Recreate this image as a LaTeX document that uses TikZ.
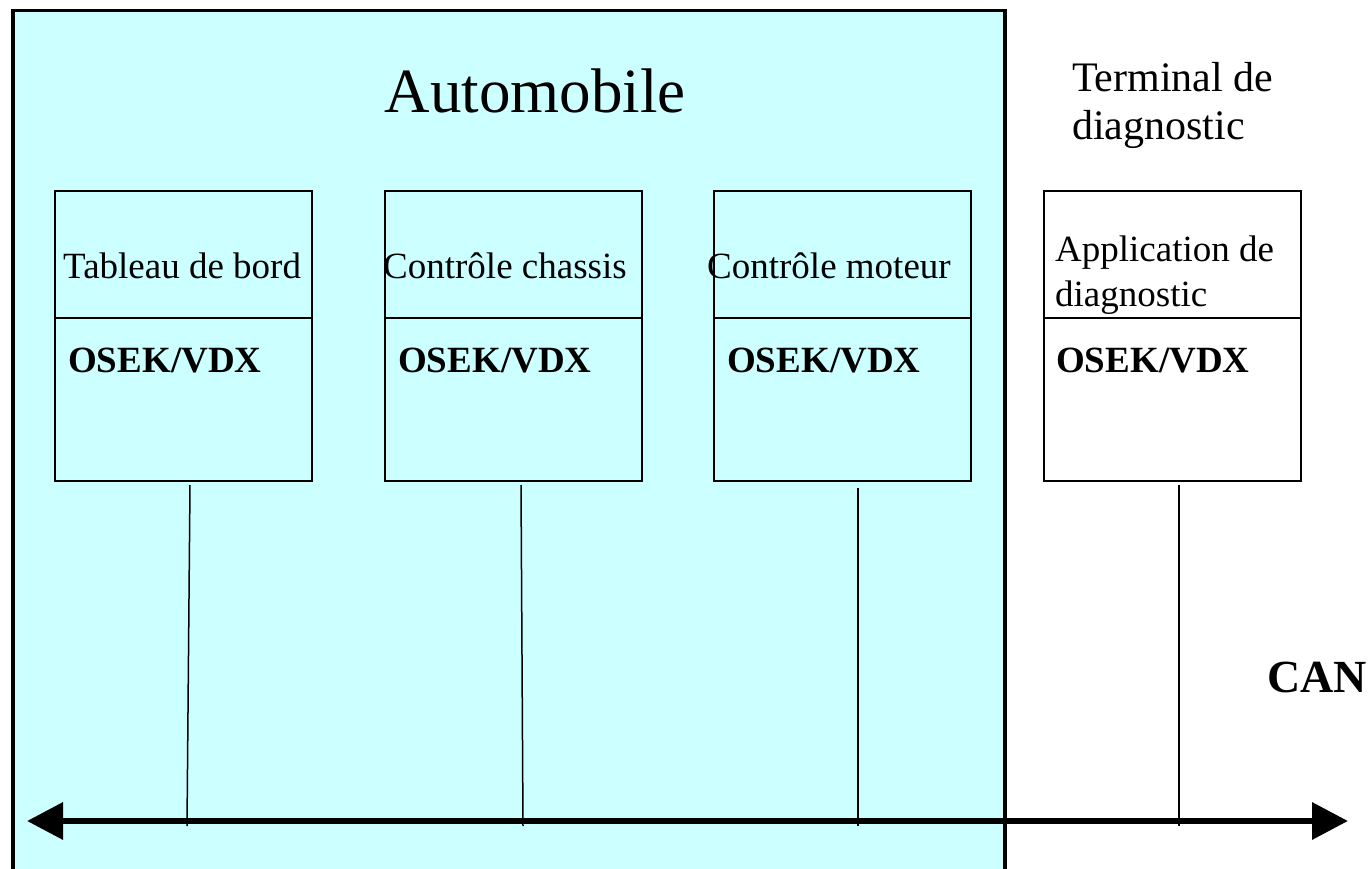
\documentclass[tikz,border=0pt]{standalone}
\usepackage{fontspec}
\setmainfont{Liberation Serif}
\usetikzlibrary{arrows.meta}
\definecolor{autocyan}{HTML}{CCFFFF}
\begin{document}
\begin{tikzpicture}[x=1pt,y=-1pt,
  ecu/.style={draw=black,line width=2pt,rectangle,minimum width=257pt,minimum height=290pt,inner sep=0pt,anchor=north west},
  lbl/.style={inner sep=0pt,anchor=base west,font=\fontsize{37}{45}\selectfont},
  oslbl/.style={inner sep=0pt,anchor=base west,font=\fontsize{37}{45}\selectfont\bfseries},
  drop/.style={line width=1.5pt},
  bus/.style={line width=6.5pt,{Triangle[length=36pt,width=36pt]}-{Triangle[length=36pt,width=36pt]}}]
\useasboundingbox (0,0) rectangle (1369,869);
\clip (0,0) rectangle (1369,869);
\fill[white] (0,0) rectangle (1369,869);
% Automobile area
\node[draw=black,fill=autocyan,line width=3.5pt,rectangle,inner sep=0pt,anchor=north west,minimum width=992pt,minimum height=900pt] (auto) at (11,9) {};
\node[inner sep=0pt,anchor=base,font=\fontsize{63}{70}\selectfont] (autotxt) at (535,113) {Automobile};
\node[inner sep=0pt,anchor=base west,align=left,font=\fontsize{42}{48}\selectfont] (termtxt) at (1072,140) {Terminal de\\diagnostic};
% ECU boxes
\node[ecu] (b1) at (54,190) {};
\node[ecu] (b2) at (384,190) {};
\node[ecu] (b3) at (713,190) {};
\node[ecu,fill=white] (b4) at (1043,190) {};
\foreach \b in {b1,b2,b3,b4}{
  \draw[line width=2pt] ([yshift=-128pt]\b.north west) -- ([yshift=-128pt]\b.north east);
}
\node[lbl] (t1) at (63,279) {Tableau de bord};
\node[lbl] (t2) at (383,279) {Contrôle chassis};
\node[lbl] (t3) at (707,279) {Contrôle moteur};
\node[lbl,align=left] (t4) at (1055,307) {Application de\\diagnostic};
\node[oslbl] (o1) at (68,372) {OSEK/VDX};
\node[oslbl] (o2) at (398,372) {OSEK/VDX};
\node[oslbl] (o3) at (727,372) {OSEK/VDX};
\node[oslbl] (o4) at (1056,372) {OSEK/VDX};
\node[inner sep=0pt,anchor=base west,font=\fontsize{46}{52}\selectfont\bfseries] (can) at (1267,692) {CAN};
% bus
\coordinate (busL) at (27,821);
\coordinate (busR) at (1348,821);
\coordinate (s1) at (190,485);
\coordinate (s2) at (521,485);
\coordinate (s3) at (858,488);
\coordinate (s4) at (1179,485);
\coordinate (e1) at (187,826);
\coordinate (e2) at (523,826);
\coordinate (e3) at (858,826);
\coordinate (e4) at (1179,826);
\foreach \i in {1,2,3,4}{\draw[drop] (s\i) -- (e\i);}
\draw[bus] (busL) -- (busR);
\end{tikzpicture}
\end{document}
